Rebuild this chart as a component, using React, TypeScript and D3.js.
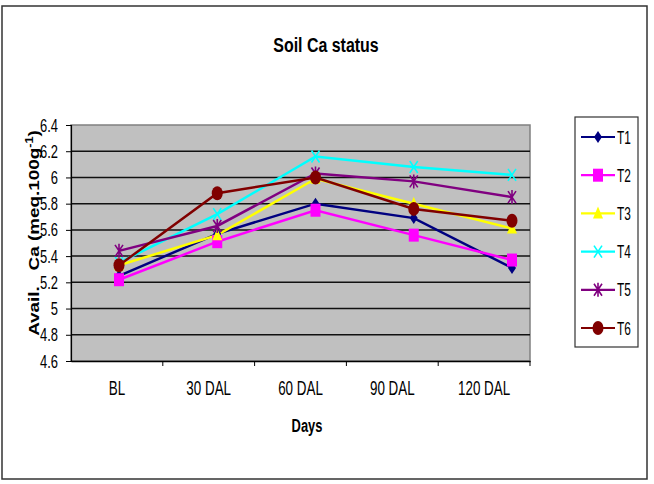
import React, { useRef, useEffect } from 'react';
import * as d3 from 'd3';

const days = ['BL', '30 DAL', '60 DAL', '90 DAL', '120 DAL'];
const yTicks = [4.6, 4.8, 5, 5.2, 5.4, 5.6, 5.8, 6, 6.2, 6.4];

const t1 = [5.25, 5.57, 5.8, 5.69, 5.31];
const t2 = [5.22, 5.51, 5.75, 5.56, 5.37];
const t3 = [5.33, 5.56, 5.99, 5.8, 5.61];
const t4 = [5.35, 5.72, 6.16, 6.08, 6.02];
const t5 = [5.44, 5.63, 6.03, 5.97, 5.85];
const t6 = [5.33, 5.88, 6.0, 5.76, 5.67];

const seriesNames = ['T1', 'T2', 'T3', 'T4', 'T5', 'T6'];
const seriesColors = ['#000080', '#ff00ff', '#ffff00', '#00ffff', '#800080', '#800000'];
const seriesShapes = ['diamond', 'square', 'triangle', 'x', 'star', 'circle'];

const W = 654;
const H = 484;
const FONT = "'Liberation Sans', Arial, sans-serif";

type G = d3.Selection<SVGGElement, unknown, null, undefined> | d3.Selection<SVGSVGElement | null, unknown, null, undefined>;

// the source picture is squeezed sideways, so text is drawn with a horizontal scale
function squeezedText(parent: G, x: number, y: number, str: string, size: number, sx: number, anchor = 'middle', bold = false) {
  return (parent as any).append('text')
    .attr('transform', `translate(${x},${y}) scale(${sx},1)`)
    .attr('text-anchor', anchor)
    .attr('font-family', FONT)
    .attr('font-size', size)
    .attr('font-weight', bold ? 'bold' : 'normal')
    .attr('fill', '#000')
    .text(str);
}

function drawMarker(g: d3.Selection<SVGGElement, unknown, null, undefined>, shape: string, color: string, x: number, y: number) {
  if (shape === 'diamond') {
    g.append('path').attr('d', `M${x},${y - 6}L${x + 4},${y}L${x},${y + 6}L${x - 4},${y}Z`).attr('fill', color);
  } else if (shape === 'square') {
    g.append('rect').attr('x', x - 5).attr('y', y - 6.5).attr('width', 10).attr('height', 13).attr('fill', color);
  } else if (shape === 'triangle') {
    g.append('path').attr('d', `M${x},${y - 7}L${x + 5},${y + 5}L${x - 5},${y + 5}Z`).attr('fill', color);
  } else if (shape === 'x') {
    g.append('path').attr('d', `M${x - 4},${y - 6}L${x + 4},${y + 6}M${x + 4},${y - 6}L${x - 4},${y + 6}`)
      .attr('stroke', color).attr('stroke-width', 1.6);
  } else if (shape === 'star') {
    g.append('path').attr('d', `M${x - 4},${y - 6}L${x + 4},${y + 6}M${x + 4},${y - 6}L${x - 4},${y + 6}M${x},${y - 7}L${x},${y + 7}`)
      .attr('stroke', color).attr('stroke-width', 1.6);
  } else {
    g.append('ellipse').attr('cx', x).attr('cy', y).attr('rx', 5.5).attr('ry', 7).attr('fill', color);
  }
}

export default function App() {
  const svgRef = useRef<SVGSVGElement>(null);

  useEffect(() => {
    const svg = d3.select(svgRef.current);
    svg.selectAll('*').remove();

    const series = [t1, t2, t3, t4, t5, t6];
    const plot = { left: 71, right: 530, top: 125, bottom: 361 };

    // outer frame
    svg.append('rect')
      .attr('x', 2).attr('y', 6).attr('width', 645).attr('height', 473)
      .attr('fill', '#fff').attr('stroke', '#333').attr('stroke-width', 1.5);

    const y = d3.scaleLinear().domain([4.6, 6.4]).range([plot.bottom, plot.top]);
    const xBand = d3.scaleBand<string>().domain(days).range([plot.left, plot.right]);
    const xPt = d3.scalePoint<string>().domain(days).range([119, 512]);

    // plot area
    svg.append('rect')
      .attr('x', plot.left).attr('y', plot.top)
      .attr('width', plot.right - plot.left).attr('height', plot.bottom - plot.top)
      .attr('fill', '#c0c0c0').attr('stroke', '#808080').attr('stroke-width', 1.5);

    // gridlines
    svg.append('g').selectAll('line')
      .data(yTicks.slice(1, -1))
      .enter().append('line')
      .attr('x1', plot.left).attr('x2', plot.right)
      .attr('y1', d => y(d)).attr('y2', d => y(d))
      .attr('stroke', '#111').attr('stroke-width', 1.5);

    // y axis
    const yAxis = svg.append('g')
      .attr('transform', `translate(${plot.left},0)`)
      .call(d3.axisLeft(y).tickValues(yTicks).tickSize(5).tickFormat(() => ''));
    yAxis.select('.domain').attr('stroke', '#000').attr('stroke-width', 1.2);
    yAxis.selectAll('line').attr('stroke', '#000');
    yTicks.forEach(t => squeezedText(svg, 58, y(t) + 6.5, String(t), 18, 0.72, 'end'));

    // x axis
    const xAxis = svg.append('g')
      .attr('transform', `translate(0,${plot.bottom})`)
      .call(d3.axisBottom(xBand).tickSize(0).tickFormat(() => ''));
    xAxis.select('.domain').attr('stroke', '#000').attr('stroke-width', 1.5);
    xAxis.selectAll('line.sep')
      .data(days)
      .enter().append('line')
      .attr('class', 'sep')
      .attr('x1', d => (xBand(d) as number) + xBand.bandwidth())
      .attr('x2', d => (xBand(d) as number) + xBand.bandwidth())
      .attr('y1', 0).attr('y2', 5)
      .attr('stroke', '#000');
    days.forEach(d => squeezedText(svg, (xBand(d) as number) + xBand.bandwidth() / 2, 395, d, 20, 0.67));

    // lines
    const line = d3.line<number>()
      .x((_, i) => xPt(days[i]) as number)
      .y(d => y(d));

    series.forEach((vals, si) => {
      svg.append('path')
        .datum(vals)
        .attr('d', line)
        .attr('fill', 'none')
        .attr('stroke', seriesColors[si])
        .attr('stroke-width', 2.5);
    });
    series.forEach((vals, si) => {
      const g = svg.append('g');
      vals.forEach((v, i) => drawMarker(g, seriesShapes[si], seriesColors[si], xPt(days[i]) as number, y(v)));
    });

    // titles
    squeezedText(svg, 326, 52, 'Soil Ca status', 21, 0.76, 'middle', true);
    squeezedText(svg, 307, 432, 'Days', 19, 0.68, 'middle', true);

    const yt = svg.append('text')
      .attr('transform', 'translate(38.5,233) rotate(-90) scale(1.26,1)')
      .attr('text-anchor', 'middle')
      .style('white-space', 'pre')
      .attr('font-family', FONT).attr('font-weight', 'bold').attr('font-size', 15);
    yt.append('tspan').text('Avail.   Ca (meq.100g');
    yt.append('tspan').attr('dy', -6).attr('font-size', 10).text('-1');
    yt.append('tspan').attr('dy', 6).text(')');

    // legend
    svg.append('rect')
      .attr('x', 575).attr('y', 117).attr('width', 63).attr('height', 230)
      .attr('fill', '#fff').attr('stroke', '#333').attr('stroke-width', 1.2);
    const legendY = d3.scalePoint<string>().domain(seriesNames).range([137, 328]);
    seriesNames.forEach((name, si) => {
      const ly = legendY(name) as number;
      const g = svg.append('g');
      g.append('line').attr('x1', 581).attr('x2', 615).attr('y1', ly).attr('y2', ly)
        .attr('stroke', seriesColors[si]).attr('stroke-width', 2.2);
      drawMarker(g, seriesShapes[si], seriesColors[si], 598, ly);
      squeezedText(g, 617, ly + 6.5, name, 18, 0.66, 'start');
    });
  }, []);

  return (
    <svg
      ref={svgRef}
      width={W}
      height={H}
      style={{ position: 'absolute', left: 0, top: 0, background: '#fff' }}
    />
  );
}
